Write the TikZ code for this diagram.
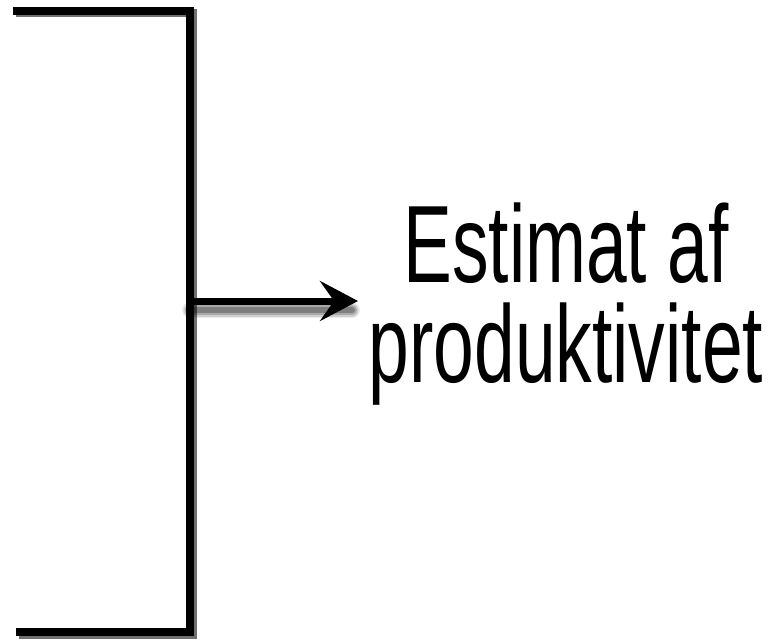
\documentclass[tikz,border=0pt]{standalone}
\usepackage{fontspec}
\setmainfont[FakeStretch=0.665]{Liberation Sans}
\tikzset{
  bracketline/.style={line width=8pt, line cap=rect, line join=miter},
  bracketshadow/.style={bracketline, black!70, opacity=0.8},
  outarrow/.style={line width=7pt, -{Stealth[length=38pt, width=40pt, inset=14pt]}},
}
\usetikzlibrary{arrows.meta}
\begin{document}
\begin{tikzpicture}[x=1pt, y=-1pt]
  \useasboundingbox (0,0) rectangle (782,642);
  % corners of the bracket
  \coordinate (top) at (17,11);
  \coordinate (topright) at (190,11);
  \coordinate (bottomright) at (190,632);
  \coordinate (bottom) at (20,632);
  \coordinate (junction) at (190,301);
  \coordinate (tip) at (358,301);
  % shadow of the bracket
  \draw[bracketshadow] ([shift={(2.5,2.5)}]top) -- ([shift={(2.5,2.5)}]topright)
    -- ([shift={(2.5,2.5)}]bottomright) -- ([shift={(2.5,2.5)}]bottom);
  \draw[bracketline] (top) -- (topright) -- (bottomright) -- (bottom);
  % blurred shadow of the arrow
  \foreach \w/\o in {16/0.08, 13/0.12, 10/0.18, 6/0.25} {
    \draw[line width=\w pt, black, opacity=\o, line cap=round]
      ([shift={(0,9)}]junction) -- ([shift={(-6,9)}]tip);
  }
  \draw[outarrow] (junction) -- (tip);
  \node[anchor=base, align=center, inner sep=0pt,
        font=\fontsize{110}{100}\selectfont] (estimate) at (566,382)
    {Estimat af\\produktivitet};
\end{tikzpicture}
\end{document}
